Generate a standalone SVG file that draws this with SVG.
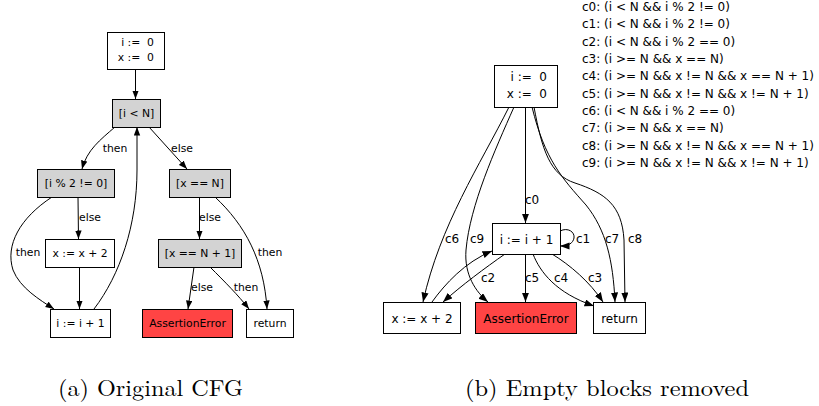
<svg xmlns="http://www.w3.org/2000/svg" width="819" height="406" viewBox="0 0 819 406">
<style>
.bx{fill:#fff;stroke:#000;stroke-width:1}
.gr{fill:#d3d3d3;stroke:#000;stroke-width:1}
.rd{fill:#ff4444;stroke:#000;stroke-width:1}
.e{fill:none;stroke:#000;stroke-width:1}
.t{font-family:"DejaVu Sans",sans-serif;font-size:10.8px;fill:#000;white-space:pre}
.tr{font-family:"DejaVu Sans",sans-serif;font-size:12px;fill:#000;white-space:pre}
.lg{font-family:"DejaVu Sans",sans-serif;font-size:10.8px;fill:#000}
.lr{font-family:"DejaVu Sans",sans-serif;font-size:12px;fill:#000}
.cap{font-family:"Latin Modern Roman","Liberation Serif","DejaVu Serif",serif;font-size:23px;fill:#000}
</style>
<defs>
<marker id="a" markerUnits="userSpaceOnUse" markerWidth="9" markerHeight="7" refX="8.5" refY="3.2" orient="auto"><path d="M0,0 L8.5,3.2 L0,6.4 z" fill="#000"/></marker>
<marker id="b" markerUnits="userSpaceOnUse" markerWidth="10" markerHeight="8" refX="9.5" refY="3.6" orient="auto"><path d="M0,0 L9.5,3.6 L0,7.2 z" fill="#000"/></marker>
</defs>
<g id="left-edges">
<path class="e" d="M135.5,69 L135.5,99" marker-end="url(#a)"/>
<path class="e" d="M115,127 C100,140 87,150 82,169" marker-end="url(#a)"/>
<path class="e" d="M149,127 L187,169" marker-end="url(#a)"/>
<path class="e" d="M94,309 C120,275 137,225 137,170 L137,127" marker-end="url(#a)"/>
<path class="e" d="M78,197 L78.5,239" marker-end="url(#a)"/>
<path class="e" d="M52,197 C20,218 5,245 13,270 C20,288 40,300 54,309" marker-end="url(#a)"/>
<path class="e" d="M79.5,267 L79.5,309" marker-end="url(#a)"/>
<path class="e" d="M199.5,197 L199.5,239" marker-end="url(#a)"/>
<path class="e" d="M215,197 C245,225 264,260 267,309" marker-end="url(#a)"/>
<path class="e" d="M194,267 L188,309" marker-end="url(#a)"/>
<path class="e" d="M210,267 C225,282 238,295 249,309" marker-end="url(#a)"/>
<text class="lg" x="115" y="152" text-anchor="middle">then</text>
<text class="lg" x="182" y="152" text-anchor="middle">else</text>
<text class="lg" x="90" y="221" text-anchor="middle">else</text>
<text class="lg" x="28" y="256" text-anchor="middle">then</text>
<text class="lg" x="210" y="221" text-anchor="middle">else</text>
<text class="lg" x="270" y="256" text-anchor="middle">then</text>
<text class="lg" x="202" y="291" text-anchor="middle">else</text>
<text class="lg" x="246" y="291" text-anchor="middle">then</text>
</g>
<g id="L-start"><rect class="bx" x="107.5" y="32.5" width="57" height="37"/><text class="t" x="154" y="46" text-anchor="end">i :=  0</text><text class="t" x="154" y="61" text-anchor="end">x :=  0</text></g>
<g id="L-cond1"><rect class="gr" x="112.5" y="99.5" width="48" height="28"/><text class="t" x="136.5" y="117" text-anchor="middle">[i &lt; N]</text></g>
<g id="L-cond2"><rect class="gr" x="37.5" y="169.5" width="77" height="28"/><text class="t" x="76" y="187" text-anchor="middle">[i % 2 != 0]</text></g>
<g id="L-cond3"><rect class="gr" x="169.5" y="169.5" width="61" height="28"/><text class="t" x="200" y="187" text-anchor="middle">[x == N]</text></g>
<g id="L-x2"><rect class="bx" x="45.5" y="239.5" width="69" height="28"/><text class="t" x="80" y="257" text-anchor="middle">x := x + 2</text></g>
<g id="L-cond4"><rect class="gr" x="158.5" y="239.5" width="83" height="28"/><text class="t" x="200" y="257" text-anchor="middle">[x == N + 1]</text></g>
<g id="L-inc"><rect class="bx" x="50.5" y="309.5" width="60" height="28"/><text class="t" x="80.5" y="327" text-anchor="middle">i := i + 1</text></g>
<g id="L-err"><rect class="rd" x="142.5" y="309.5" width="90" height="28"/><text class="t" x="187.5" y="327" text-anchor="middle">AssertionError</text></g>
<g id="L-ret"><rect class="bx" x="246.5" y="309.5" width="47" height="28"/><text class="t" x="270" y="327" text-anchor="middle">return</text></g>

<g id="right-edges">
<path class="e" d="M525.5,107 L525.5,223" marker-end="url(#b)"/>
<path class="e" d="M560,231 C568,227 575,232 574,238 C573,243 569,246 560,246" marker-end="url(#b)"/>
<path class="e" d="M505,254 C485,268 462,285 443,302" marker-end="url(#b)"/>
<path class="e" d="M432,302 C445,284 465,262 492,251" marker-end="url(#b)"/>
<path class="e" d="M525.5,254 L525.5,302" marker-end="url(#b)"/>
<path class="e" d="M533,254 C540,272 556,293 594,306" marker-end="url(#b)"/>
<path class="e" d="M552,254 C570,265 590,282 603,302" marker-end="url(#b)"/>
<path class="e" d="M509,107 C480,165 440,225 423,302" marker-end="url(#b)"/>
<path class="e" d="M514,107 C495,150 470,205 466,250 C464,275 476,292 488,302" marker-end="url(#b)"/>
<path class="e" d="M532,107 C545,160 562,178 586,205 C606,230 613,260 615,302" marker-end="url(#b)"/>
<path class="e" d="M534,107 C542,150 550,175 575,183 C605,193 622,205 624,240 L625,302" marker-end="url(#b)"/>
<text class="lr" x="532" y="204" text-anchor="middle">c0</text>
<text class="lr" x="583" y="243" text-anchor="middle">c1</text>
<text class="lr" x="488" y="282" text-anchor="middle">c2</text>
<text class="lr" x="532" y="282" text-anchor="middle">c5</text>
<text class="lr" x="561" y="282" text-anchor="middle">c4</text>
<text class="lr" x="595" y="282" text-anchor="middle">c3</text>
<text class="lr" x="452" y="243" text-anchor="middle">c6</text>
<text class="lr" x="477" y="243" text-anchor="middle">c9</text>
<text class="lr" x="612" y="243" text-anchor="middle">c7</text>
<text class="lr" x="635" y="243" text-anchor="middle">c8</text>
</g>
<g id="R-start"><rect class="bx" x="494.5" y="65.5" width="63" height="42"/><text class="tr" x="547" y="80.5" text-anchor="end">i :=  0</text><text class="tr" x="547" y="97.5" text-anchor="end">x :=  0</text></g>
<g id="R-inc"><rect class="bx" x="492.5" y="223.5" width="68" height="31"/><text class="tr" x="526.5" y="243.5" text-anchor="middle">i := i + 1</text></g>
<g id="R-x2"><rect class="bx" x="383.5" y="302.5" width="77" height="31"/><text class="tr" x="422" y="322.5" text-anchor="middle">x := x + 2</text></g>
<g id="R-err"><rect class="rd" x="475.5" y="302.5" width="101" height="31"/><text class="tr" x="526" y="322.5" text-anchor="middle">AssertionError</text></g>
<g id="R-ret"><rect class="bx" x="593.5" y="302.5" width="52" height="31"/><text class="tr" x="619.5" y="322.5" text-anchor="middle">return</text></g>
<g id="legend">
<text class="lr" x="582" y="11">c0: (i &lt; N &amp;&amp; i % 2 != 0)</text>
<text class="lr" x="582" y="28.3">c1: (i &lt; N &amp;&amp; i % 2 != 0)</text>
<text class="lr" x="582" y="45.7">c2: (i &lt; N &amp;&amp; i % 2 == 0)</text>
<text class="lr" x="582" y="63">c3: (i &gt;= N &amp;&amp; x == N)</text>
<text class="lr" x="582" y="80.3">c4: (i &gt;= N &amp;&amp; x != N &amp;&amp; x == N + 1)</text>
<text class="lr" x="582" y="97.7">c5: (i &gt;= N &amp;&amp; x != N &amp;&amp; x != N + 1)</text>
<text class="lr" x="582" y="115">c6: (i &lt; N &amp;&amp; i % 2 == 0)</text>
<text class="lr" x="582" y="132.3">c7: (i &gt;= N &amp;&amp; x == N)</text>
<text class="lr" x="582" y="149.7">c8: (i &gt;= N &amp;&amp; x != N &amp;&amp; x == N + 1)</text>
<text class="lr" x="582" y="167">c9: (i &gt;= N &amp;&amp; x != N &amp;&amp; x != N + 1)</text>
</g>
<g id="captions">
<text class="cap" x="58" y="396" textLength="185" lengthAdjust="spacingAndGlyphs">(a) Original CFG</text>
<text class="cap" x="465" y="396" textLength="284" lengthAdjust="spacingAndGlyphs">(b) Empty blocks removed</text>
</g>
</svg>
